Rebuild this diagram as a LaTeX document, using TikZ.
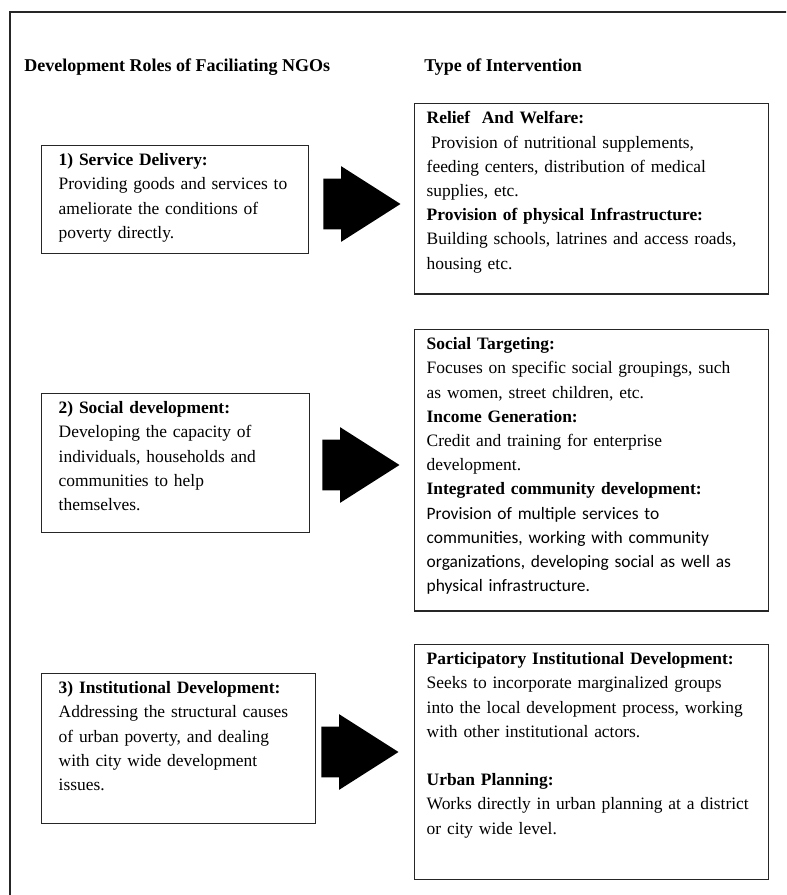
\documentclass[tikz,border=0pt]{standalone}
\usepackage{fontspec}
\setmainfont{Liberation Serif}
\newfontfamily\calibrifont{Carlito}
\usetikzlibrary{shapes.arrows}

\begin{document}
\begin{tikzpicture}[
  every node/.style={font=\fontsize{12.4}{17.2}\selectfont},
  rolebox/.style={draw=black!85, line width=1pt, anchor=north west, align=left,
    inner xsep=0.425cm, inner ysep=0.2cm},
  typebox/.style={draw=black!85, line width=1pt, anchor=north west, align=left,
    inner xsep=0.3cm, inner ysep=0.2cm, text width=8.25cm},
  bigarrow/.style={single arrow, fill=black, draw=none, anchor=tip,
    inner xsep=0pt, inner ysep=0.625cm, minimum height=1.925cm,
    single arrow head extend=0.3125cm, single arrow tip angle=65,
    single arrow head indent=0pt},
  colhead/.style={anchor=base west, inner sep=0pt,
    font=\fontsize{12.8}{17.2}\selectfont\bfseries}]
\useasboundingbox (0,0) rectangle (19.65,-22.375);
% outer frame, cut off at the bottom and right
\begin{scope}
\clip (0,0) rectangle (19.65,-22.375);
\draw[line width=1.3pt, black!85] (0.25,-22.6) -- (0.25,-0.3) -- (19.9,-0.3);
\end{scope}
% column heads
\node[colhead] (hroles) at (0.6,-1.8) {Development Roles of Faciliating NGOs};
\node[colhead] (htypes) at (10.6,-1.8) {Type of Intervention};
% left column: the three roles
\node[rolebox, text width=5.825cm, text depth=1.99cm] (role1) at (1.025,-3.625)
  {\textbf{1) Service Delivery:}\\
   Providing goods and services to\\
   ameliorate the conditions of\\
   poverty directly.};
\node[rolebox, text width=5.85cm, text depth=2.77cm] (role2) at (1.025,-9.825)
  {\textbf{2) Social development:}\\
   Developing the capacity of\\
   individuals, households and\\
   communities to help\\
   themselves.};
\node[rolebox, text width=6.0cm, text depth=3.045cm] (role3) at (1.025,-16.825)
  {\textbf{3) Institutional Development:}\\
   Addressing the structural causes\\
   of urban poverty, and dealing\\
   with city wide development\\
   issues.};
% right column: the interventions
\node[typebox, text depth=4.055cm] (type1) at (10.35,-2.575)
  {\textbf{Relief\ \ And Welfare:}\\
   \hspace*{0.25em}Provision of nutritional supplements,\\
   feeding centers, distribution of medical\\
   supplies, etc.\\
   \textbf{Provision of physical Infrastructure:}\\
   Building schools, latrines and access roads,\\
   housing etc.};
\node[typebox, text depth=6.325cm] (type2) at (10.35,-8.225)
  {\textbf{Social Targeting:}\\
   Focuses on specific social groupings, such\\
   as women, street children, etc.\\
   \textbf{Income Generation:}\\
   Credit and training for enterprise\\
   development.\\
   \textbf{Integrated community development:}\\
   {\calibrifont Provision of multiple services to}\\
   {\calibrifont communities, working with community}\\
   {\calibrifont organizations, developing social as well as}\\
   {\calibrifont physical infrastructure.}};
\node[typebox, text depth=5.16cm] (type3) at (10.35,-16.1)
  {\textbf{Participatory Institutional Development:}\\
   Seeks to incorporate marginalized groups\\
   into the local development process, working\\
   with other institutional actors.\\[17.2pt]
   \textbf{Urban Planning:}\\
   Works directly in urban planning at a district\\
   or city wide level.};
% block arrows from each role to its interventions
\node[bigarrow] (arr1) at (10.025,-5.1) {};
\node[bigarrow] (arr2) at (10.0,-11.625) {};
\node[bigarrow] (arr3) at (9.975,-18.8) {};
\end{tikzpicture}
\end{document}
